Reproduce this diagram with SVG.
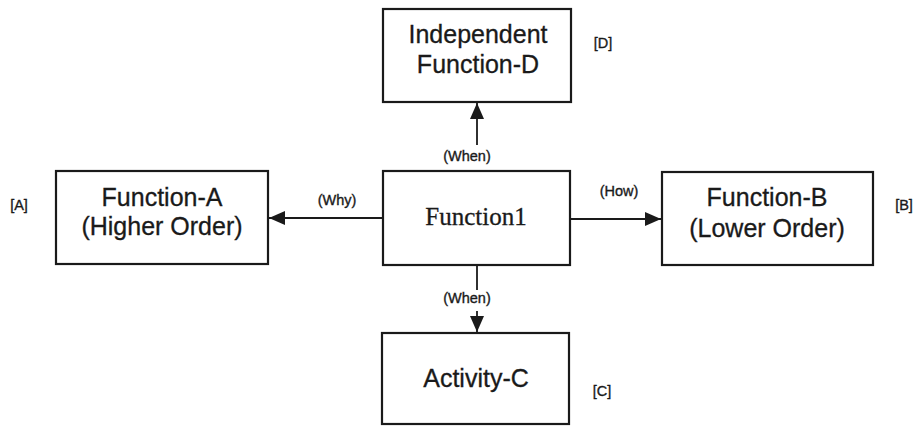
<svg xmlns="http://www.w3.org/2000/svg" width="916" height="427" viewBox="0 0 916 427">
  <style>
    .box { fill: #ffffff; stroke: #1a1a1a; stroke-width: 2.2; }
    .title { font-family: "Liberation Sans", Arial, sans-serif; font-size: 25px; fill: #1a1a1a; stroke: #1a1a1a; stroke-width: 0.3; text-anchor: middle; }
    .serif { font-family: "Liberation Serif", "Times New Roman", serif; font-size: 25px; fill: #1a1a1a; stroke: #1a1a1a; stroke-width: 0.3; text-anchor: middle; }
    .label { font-family: "Liberation Sans", Arial, sans-serif; font-size: 14.5px; fill: #1a1a1a; stroke: #1a1a1a; stroke-width: 0.35; text-anchor: middle; }
    .link { stroke: #1a1a1a; stroke-width: 1.8; fill: none; marker-end: url(#head); }
  </style>
  <defs>
    <marker id="head" markerWidth="16" markerHeight="14" refX="16" refY="7" orient="auto" markerUnits="userSpaceOnUse">
      <path d="M0,0 L16,7 L0,14 Z" fill="#1a1a1a"/>
    </marker>
  </defs>
  <rect width="916" height="427" fill="#ffffff"/>

  <g id="connectors">
    <line class="link" x1="383" y1="218" x2="269" y2="218"/>
    <line class="link" x1="570" y1="219" x2="661" y2="219"/>
    <line class="link" x1="477" y1="145" x2="477" y2="103"/>
    <line x1="477" y1="265" x2="477" y2="290" stroke="#1a1a1a" stroke-width="1.8"/>
    <line class="link" x1="477" y1="311" x2="477" y2="332"/>
    <text class="label" x="467" y="161">(When)</text>
    <text class="label" x="337" y="205">(Why)</text>
    <text class="label" x="619" y="196">(How)</text>
    <text class="label" x="467" y="303">(When)</text>
  </g>

  <g id="function-d">
    <rect class="box" x="383" y="9" width="188" height="93"/>
    <text class="title" x="478" y="43">Independent</text>
    <text class="title" x="478" y="73">Function-D</text>
    <text class="label" x="603" y="48">[D]</text>
  </g>

  <g id="function-a">
    <rect class="box" x="56" y="171" width="212" height="93"/>
    <text class="title" x="162" y="206">Function-A</text>
    <text class="title" x="162" y="235">(Higher Order)</text>
    <text class="label" x="19" y="210">[A]</text>
  </g>

  <g id="function1">
    <rect class="box" x="383" y="171" width="187" height="94"/>
    <text class="serif" x="476" y="225">Function1</text>
  </g>

  <g id="function-b">
    <rect class="box" x="662" y="172" width="211" height="93"/>
    <text class="title" x="767" y="206">Function-B</text>
    <text class="title" x="767" y="237">(Lower Order)</text>
    <text class="label" x="904" y="210">[B]</text>
  </g>

  <g id="activity-c">
    <rect class="box" x="382" y="333" width="187" height="91"/>
    <text class="title" x="476" y="387">Activity-C</text>
    <text class="label" x="602" y="396">[C]</text>
  </g>
</svg>
